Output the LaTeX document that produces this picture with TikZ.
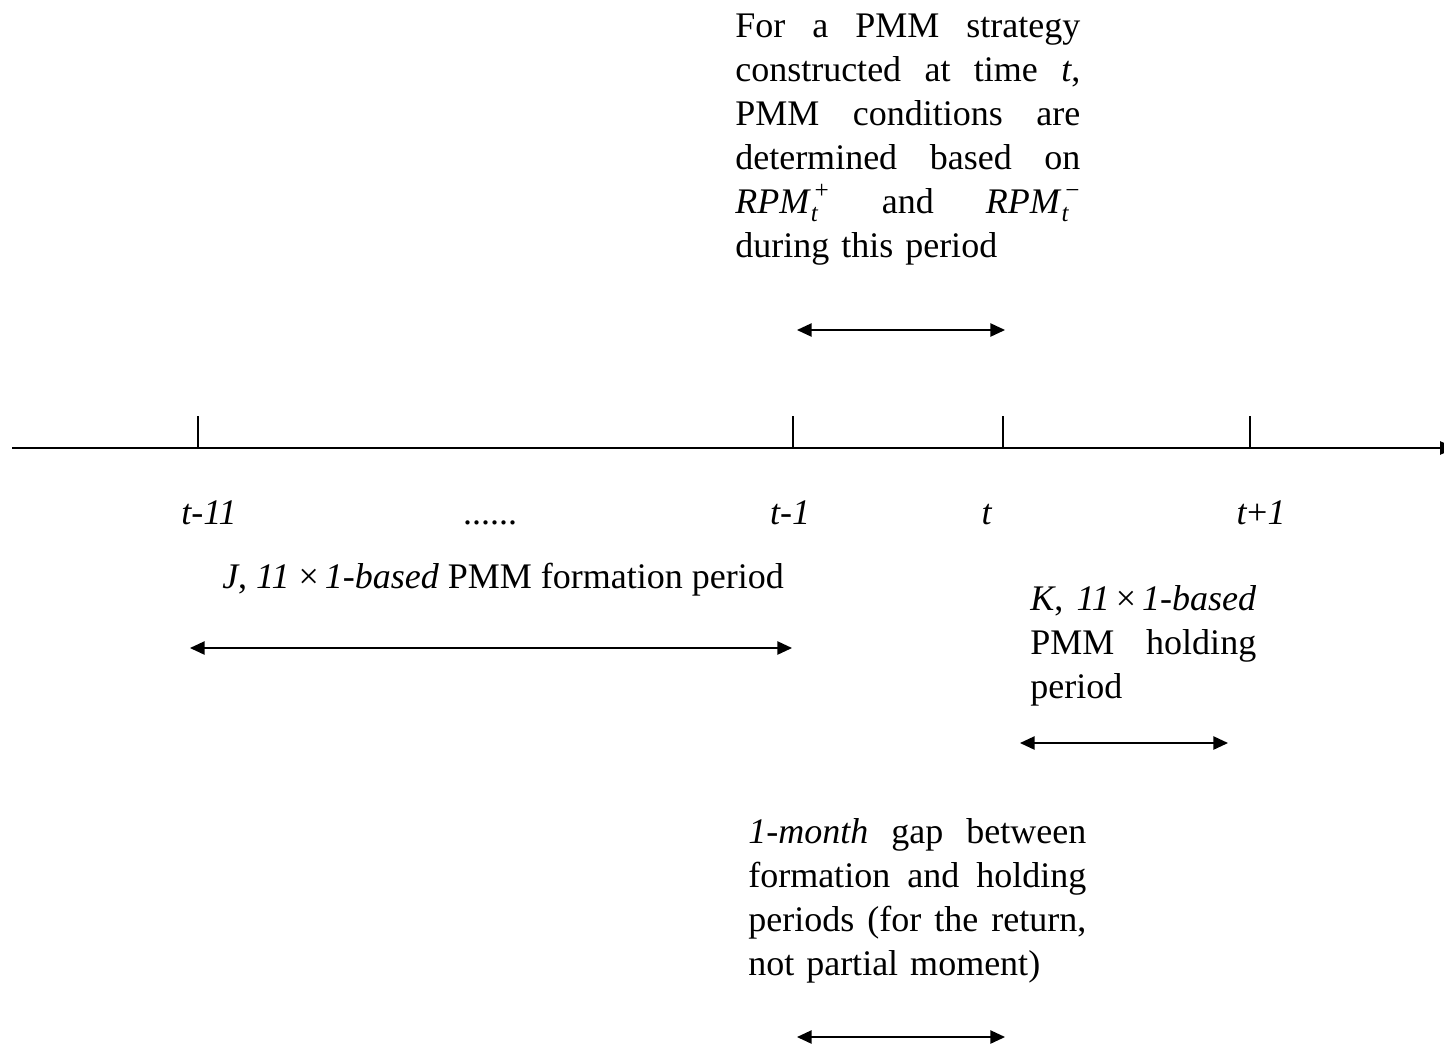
\documentclass[tikz,border=0pt]{standalone}
\usepackage{amsmath}
\usepackage{fontspec}
\setmainfont{Liberation Serif}
\usetikzlibrary{arrows.meta}
\begin{document}
\begin{tikzpicture}[x=0.75pt,y=-0.75pt,
  txt/.style={inner sep=0pt,font=\fontsize{27}{33}\selectfont},
  block/.style={txt,anchor=base west},
  dbl/.style={line width=1.1pt,{Triangle[length=11pt,width=10pt]}-{Triangle[length=11pt,width=10pt]}},
  tick/.style={line width=1pt}]
\newcommand{\jl}[2]{\hbox to #1pt{\spaceskip=0.25em plus 1fil\relax #2}}
\newcommand{\lastln}[2]{\hbox to #1pt{#2\hfil}}
\newcommand{\rpm}[1]{$\text{\textit{RPM}\/}_{\text{\textit{t}}}^{\,\text{#1}}$}
\useasboundingbox (0,0) rectangle (1444,1050);
% axis
\coordinate (a0) at (12,448);
\coordinate (a1) at (1456,448);
\draw[line width=1.1pt,-{Triangle[length=12pt,width=10pt]}] (a0) -- (a1);
% ticks
\foreach \n/\x in {t11/198,t1/793,t0/1003,tp/1250}{
  \coordinate (\n b) at (\x,448);
  \coordinate (\n u) at (\x,416);
  \draw[tick] (\n b) -- (\n u);
}
% tick labels
\node[txt,anchor=base] (l11) at (209,524) {\textit{t-11}};
\node[txt,anchor=base] (ldots) at (490,524) {......};
\node[txt,anchor=base] (l1) at (790,524) {\textit{t-1}};
\node[txt,anchor=base] (l0) at (987,524) {\textit{t}};
\node[txt,anchor=base] (lp) at (1261,524) {\textit{t}+\textit{1}};
% top block (345 px wide = 258.75 pt)
\node[block,text width=260pt] (top) at (735,37) {%
\jl{258.75}{For a PMM strategy}
\jl{258.75}{constructed at time \textit{t},}
\jl{258.75}{PMM conditions are}
\jl{258.75}{determined based on}
\jl{258.75}{\rpm{+} and \rpm{−}}
\lastln{258.75}{during this period}};
\coordinate (ta) at (797,330);
\coordinate (tb) at (1005,330);
\draw[dbl] (ta) -- (tb);
% formation
\node[txt,anchor=base west] (form) at (222,588) {\textit{J}, \textit{11} ×\,\textit{1-based} PMM formation period};
\coordinate (fa) at (190,648);
\coordinate (fb) at (792,648);
\draw[dbl] (fa) -- (fb);
% holding (226 px = 169.5 pt)
\node[block,text width=171pt] (hold) at (1030,610) {%
\jl{169.5}{\textit{K}, \textit{11}\,×\,\textit{1-based}}
\jl{169.5}{PMM holding}
\lastln{169.5}{period}};
\coordinate (ha) at (1020,743);
\coordinate (hb) at (1228,743);
\draw[dbl] (ha) -- (hb);
% gap (338 px = 253.5 pt)
\node[block,text width=255pt] (gap) at (748,843) {%
\jl{253.5}{\textit{1-month} gap between}
\jl{253.5}{formation and holding}
\jl{253.5}{periods (for the return,}
\lastln{253.5}{not partial moment)}};
\coordinate (ga) at (797,1037);
\coordinate (gb) at (1005,1037);
\draw[dbl] (ga) -- (gb);
\end{tikzpicture}
\end{document}
